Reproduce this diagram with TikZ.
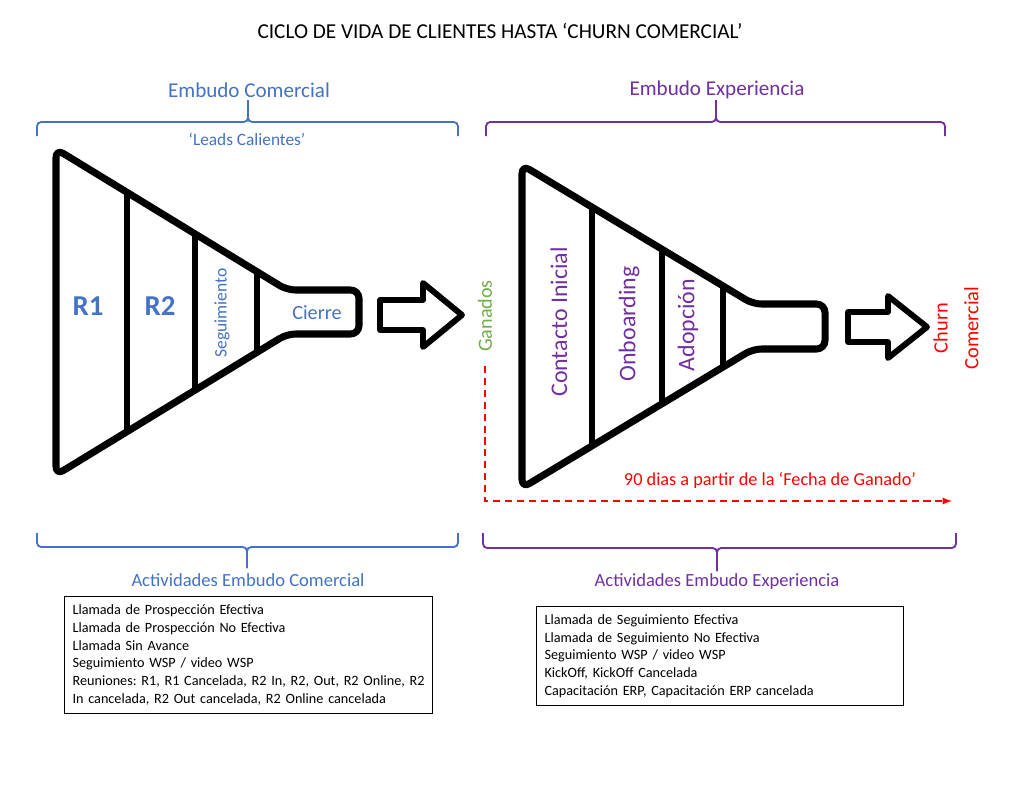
\documentclass[tikz,border=0pt]{standalone}
\usepackage{fontspec}
\setmainfont{Carlito}
\definecolor{embblue}{RGB}{68,114,196}
\definecolor{embpurple}{RGB}{112,48,160}
\definecolor{embgreen}{RGB}{112,173,71}
\definecolor{embred}{RGB}{255,0,0}
\frenchspacing

\begin{document}
\begin{tikzpicture}[
    x=0.025cm, y=-0.025cm,
    funnel/.style={draw,line width=5pt,line join=round,rounded corners=6pt},
    divider/.style={line width=4.6pt},
    blockarrow/.style={draw,line width=4.2pt,line join=round},
    bracket/.style={line width=1.3pt,rounded corners=3pt},
    dasharrow/.style={embred,line width=1.3pt,dash pattern=on 5pt off 3.5pt,-latex},
    heading/.style={font=\fontsize{15}{18}\selectfont},
    sublabel/.style={font=\fontsize{13.2}{16}\selectfont},
    stage/.style={font=\fontsize{17}{20}\selectfont,text=embpurple,rotate=90},
    actbox/.style={draw,line width=0.8pt,anchor=north west,align=left,inner xsep=0.2cm,inner ysep=0.12cm,font=\fontsize{10.1}{12.6}\selectfont}
]
    \useasboundingbox (0,0) rectangle (1016,810);

    % Title
    \node[font=\fontsize{15.1}{18}\selectfont] (title) at (500,31) {CICLO DE VIDA DE CLIENTES HASTA ‘CHURN COMERCIAL’};

    % Top braces
    \node[heading,text=embblue] (comercial) at (249,90) {Embudo Comercial};
    \node[font=\fontsize{12.3}{15}\selectfont,text=embblue] (leads) at (247,139) {‘Leads Calientes’};
    \draw[bracket,embblue] (37,136) -- (37,122) -- (248,122) -- (248,100);
    \draw[bracket,embblue] (458,136) -- (458,122) -- (248,122) -- (248,100);

    \node[heading,text=embpurple] (experiencia) at (717,90) {Embudo Experiencia};
    \draw[bracket,embpurple] (486,136) -- (486,122) -- (716,122) -- (716,100);
    \draw[bracket,embpurple] (945,136) -- (945,122) -- (716,122) -- (716,100);

    % Left funnel
    \draw[funnel] (56,149) -- (287,290) -- (359,290) -- (359,334) -- (287,334) -- (56,475) -- cycle;
    \foreach \x in {127,195,257}
        \draw[divider] (\x,{290-0.61*(287-\x)}) -- (\x,{334+0.61*(287-\x)});
    \node[font=\fontsize{20.5}{24}\selectfont\bfseries,text=embblue] (r1) at (88,306) {R1};
    \node[font=\fontsize{20.5}{24}\selectfont\bfseries,text=embblue] (r2) at (160,306) {R2};
    \node[font=\fontsize{12.5}{15}\selectfont,text=embblue,rotate=90] (segui) at (222,313) {Seguimiento};
    \node[font=\fontsize{14.4}{17}\selectfont,text=embblue] (cierre) at (317,313) {Cierre};

    \draw[blockarrow] (380,300) -- (423,300) -- (423,283) -- (462,315) -- (423,347) -- (423,330) -- (380,330) -- cycle;

    \node[font=\fontsize{14.3}{17}\selectfont,text=embgreen,rotate=90] (ganados) at (485,316) {Ganados};

    % Right funnel
    \draw[funnel] (522,165) -- (753,304) -- (825,304) -- (825,349) -- (753,349) -- (522,488) -- cycle;
    \foreach \x in {592,662,723}
        \draw[divider] (\x,{304-0.6*(753-\x)}) -- (\x,{349+0.6*(753-\x)});
    \node[stage] (contacto) at (559,322) {Contacto Inicial};
    \node[stage] (onboarding) at (629,324) {Onboarding};
    \node[stage] (adopcion) at (688,325) {Adopción};

    \draw[blockarrow] (848,312) -- (888,312) -- (888,296) -- (927,327) -- (888,358) -- (888,342) -- (848,342) -- cycle;

    \node[font=\fontsize{14.5}{22}\selectfont,text=embred,rotate=90,align=center] (churn) at (956,328) {Churn\\Comercial};

    % 90 day window
    \coordinate (dend) at (952,501);
    \draw[dasharrow] (ganados.west) ++(0,9) |- (dend);
    \node[font=\fontsize{13}{16}\selectfont,text=embred] (dias) at (770,480) {90 dias a partir de la ‘Fecha de Ganado’};

    % Bottom braces
    \draw[bracket,embblue] (37,533) -- (37,547) -- (247,547) -- (247,568);
    \draw[bracket,embblue] (458,533) -- (458,547) -- (247,547) -- (247,568);
    \node[sublabel,text=embblue] (actcom) at (248,580) {Actividades Embudo Comercial};

    \draw[bracket,embpurple] (483,533) -- (483,548) -- (717,548) -- (717,571);
    \draw[bracket,embpurple] (956,533) -- (956,548) -- (717,548) -- (717,571);
    \node[sublabel,text=embpurple] (actexp) at (717,582) {Actividades Embudo Experiencia};

    % Activity lists
    \node[actbox,text width=8.8cm,minimum height=2.925cm] (listcom) at (64,596) {Llamada de Prospección Efectiva\\
        Llamada de Prospección No Efectiva\\
        Llamada Sin Avance\\
        Seguimiento WSP / video WSP\\
        Reuniones: R1, R1 Cancelada, R2 In, R2, Out, R2 Online, R2\\
        In cancelada, R2 Out cancelada, R2 Online cancelada};
    \node[actbox,text width=8.775cm,minimum height=2.475cm] (listexp) at (536,606) {Llamada de Seguimiento Efectiva\\
        Llamada de Seguimiento No Efectiva\\
        Seguimiento WSP / video WSP\\
        KickOff, KickOff Cancelada\\
        Capacitación ERP, Capacitación ERP cancelada};
\end{tikzpicture}
\end{document}
